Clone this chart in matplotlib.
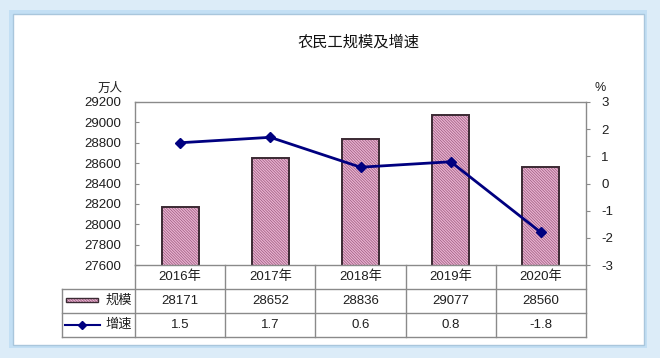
import matplotlib
matplotlib.use("Agg")
import matplotlib.pyplot as plt
from matplotlib.patches import Rectangle
from matplotlib.lines import Line2D

plt.rcParams['font.family'] = ['Liberation Sans', 'Noto Sans CJK SC']
plt.rcParams['hatch.linewidth'] = 0.5
plt.rcParams['axes.unicode_minus'] = False

years = ["2016年", "2017年", "2018年", "2019年", "2020年"]
scale = [28171, 28652, 28836, 29077, 28560]
growth = [1.5, 1.7, 0.6, 0.8, -1.8]
left_ticks = list(range(27600, 29201, 200))
right_ticks = list(range(-3, 4))

W, H = 660, 358
TXT = '#1e1e1e'
GRID = '#8a8a8a'
BAR_FACE = '#eab3d2'
HATCH_C = '#9a5a7c'
BAR_EDGE = '#3b2a33'
LINE_C = '#000080'
HATCH = '\\' * 12


def box(x0, y0, x1, y1):
    # pixel box (top-left origin) -> figure fraction rect
    return [x0 / W, 1 - y1 / H, (x1 - x0) / W, (y1 - y0) / H]


fig = plt.figure(figsize=(W / 100, H / 100), dpi=100, facecolor='#dcecf8')
fig.add_artist(Rectangle((9 / W, 1 - 348 / H), 638 / W, 338 / H, transform=fig.transFigure,
                         facecolor='#c3dff4', edgecolor='none', zorder=-10))
fig.add_artist(Rectangle((13 / W, 1 - 345 / H), 631 / W, 331 / H, transform=fig.transFigure,
                         facecolor='white', edgecolor='#a9c6dc', lw=1.0, zorder=-9))

fig.text(358 / W, 1 - 42 / H, "农民工规模及增速", ha='center', va='center', fontsize=11,
         family=['Noto Sans CJK SC'], color='#111111')
fig.text(110 / W, 1 - 88 / H, "万人", ha='center', va='center', fontsize=9, color=TXT,
         family=['Noto Sans CJK SC'])
fig.text(600 / W, 1 - 88 / H, "%", ha='center', va='center', fontsize=9, color=TXT)

# main chart
ax = fig.add_axes(box(135, 102, 586, 265))
ax.set_facecolor('none')
x = list(range(len(years)))
ax.bar(x, scale, width=0.41, color=BAR_FACE, edgecolor=HATCH_C, linewidth=0,
       hatch=HATCH, zorder=2)
ax.bar(x, scale, width=0.41, fill=False, edgecolor=BAR_EDGE, linewidth=1.4, zorder=2.1)
ax.set_xlim(-0.5, len(years) - 0.5)
ax.set_ylim(left_ticks[0], left_ticks[-1])
ax.set_yticks(left_ticks)
ax.set_xticks([])
ax.tick_params(axis='y', direction='in', length=3, colors=GRID, labelcolor=TXT, labelsize=9.5, pad=10)
for s in ax.spines.values():
    s.set_color(GRID)
    s.set_linewidth(1.0)

ax2 = ax.twinx()
ax2.plot(x, growth, color=LINE_C, lw=2, marker='D', markersize=5, zorder=3)
ax2.set_ylim(right_ticks[0], right_ticks[-1])
ax2.set_yticks(right_ticks)
ax2.tick_params(axis='y', direction='out', length=3, colors=GRID, labelcolor=TXT, labelsize=9.5, pad=8)
for s in ax2.spines.values():
    s.set_visible(False)

# data table under the chart
tx0 = -0.5 - (135 - 62) / (451 / len(years))
tab = fig.add_axes(box(62, 265, 586, 337))
tab.set_xlim(tx0, len(years) - 0.5)
tab.set_ylim(3, 0)
tab.axis('off')

for i in range(len(years) + 1):
    tab.plot([i - 0.5, i - 0.5], [0, 3], color=GRID, lw=1.0, clip_on=False)
tab.plot([tx0, tx0], [1, 3], color=GRID, lw=1.0, clip_on=False)
for r in (1, 2, 3):
    tab.plot([tx0, len(years) - 0.5], [r, r], color=GRID, lw=1.0, clip_on=False)

for i in x:
    tab.text(i, 0.5, years[i], ha='center', va='center', fontsize=9.5, color=TXT)
    tab.text(i, 1.5, str(scale[i]), ha='center', va='center', fontsize=9.5, color=TXT)
    tab.text(i, 2.5, f"{growth[i]:.1f}", ha='center', va='center', fontsize=9.5, color=TXT)

# legend keys in the first column
tab.add_patch(Rectangle((tx0 + 0.04, 1.38), 0.36, 0.18, facecolor=BAR_FACE, edgecolor=HATCH_C,
                        lw=0, hatch=HATCH))
tab.add_patch(Rectangle((tx0 + 0.04, 1.38), 0.36, 0.18, fill=False, edgecolor=BAR_EDGE, lw=1.0))
tab.text(-0.53, 1.5, "规模", ha='right', va='center', fontsize=9.5, color=TXT)
tab.add_line(Line2D([tx0 + 0.03, tx0 + 0.42], [2.48, 2.48], color=LINE_C, lw=1.5))
tab.plot([tx0 + 0.225], [2.48], marker='D', markersize=4, color=LINE_C)
tab.text(-0.53, 2.5, "增速", ha='right', va='center', fontsize=9.5, color=TXT)

fig.savefig("out.png", dpi=100, facecolor=fig.get_facecolor())
